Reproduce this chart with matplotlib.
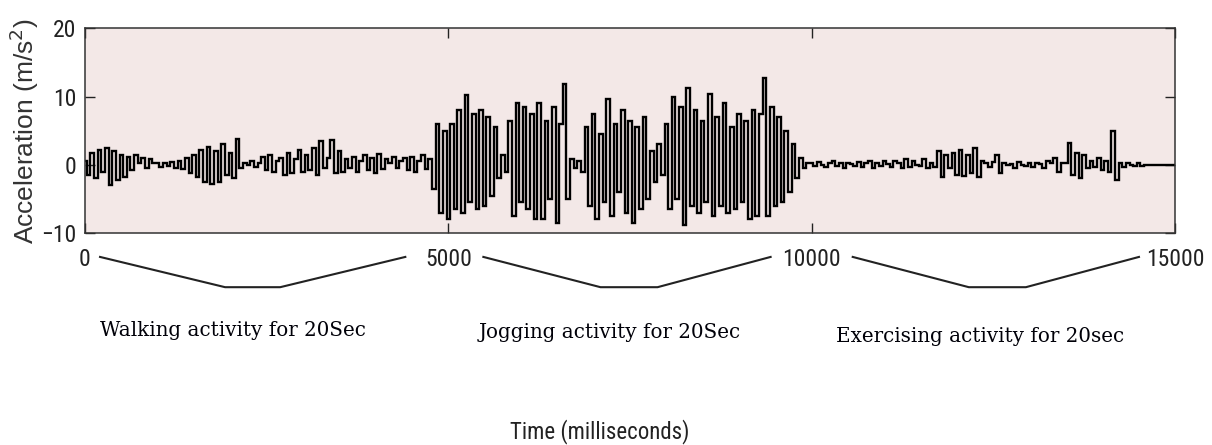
import numpy as np
import matplotlib
matplotlib.use("Agg")
import matplotlib.pyplot as plt
from matplotlib import font_manager
import matplotlib.transforms as mtransforms

# ---------------- data (one sample per 50 ms) ----------------
sample_step_ms = 50

walking = [
    0.5, -1.5, 1.8, -2.0, 2.2, -1.0, 2.5, -3.0, 2.0, -2.2, 1.5, -1.8,
    1.2, -0.8, 1.5, 0.2, 1.0, -0.5, 0.8, 0.3,
    0.2, -0.3, 0.3, -0.2, 0.4, -0.4, 0.5, -0.6,
    1.0, -1.2, 1.5, -1.8, 2.2, -2.5, 2.6, -2.8, 2.0, -2.5, 3.0, -1.5, 1.8, -2.0, 3.8, -0.5,
    0.3, 0.0, 0.5, -0.3, 0.2, 1.2, -0.8, 1.5, -1.0, 0.6,
    1.0, -1.5, 1.8, -1.2, 0.8, 2.2, -1.0, 1.5, -0.8, 2.5, -1.5, 3.5, -0.5, 1.0, 3.6, -1.2, 2.0, -1.0,
    0.8, -0.5, 1.2, -1.0, 0.6, 1.5, -0.8, 1.0, -1.2, 1.6, -0.6, 0.8, 0.2, 1.2, -0.4, 0.6,
    1.0, -0.8, 1.2, -1.0, 0.5, 1.5, -0.6, 0.8, -3.5, 6.0, -7.0, 5.0,
]

jogging = [
    -8.0, 6.0, -6.5, 8.0, -7.0, 10.3, -5.5, 7.5, -6.5, 8.0, -6.0, 7.0, -4.5, 5.5,
    -2.0, 1.5, -1.0,
    6.5, -7.5, 9.0, -5.5, 8.5, -6.5, 7.5, -8.0, 9.0, -8.0, 6.5, -5.0, 8.5, -8.5, 6.0, 11.8, -5.0,
    0.8, -0.5, 0.5, -1.0,
    5.5, -6.0, 7.5, -8.0, 4.5, -5.5, 9.6, -7.5, 6.0, -4.0, 8.0, -7.0, 6.5, -8.5, 5.5, -6.5, 7.0, -5.0,
    2.0, -2.5, 3.0, -1.5,
    6.0, -6.5, 10.0, -5.0, 8.5, -8.8, 11.3, -6.0, 8.0, -7.0, 6.5, -5.5, 10.4, -7.5, 7.0, -6.0, 9.0,
    -7.0, 5.5, -6.5, 7.5, -5.5, 6.5, -8.0, 8.0, -7.5, 7.5, 12.8, -7.5, 8.5, -6.0, 7.0, -5.5, 5.0, -4.0,
    3.0, -2.0, 1.0, -0.5, 0.3,
]

exercising = [
    0.3, -0.2, 0.4, 0.0, -0.3, 0.2, 0.5, -0.1, 0.2, -0.4, 0.3, 0.1, -0.2, 0.4, -0.3, 0.2, 0.6,
    -0.5, 0.3, -0.2, 0.5, 0.1, -0.3, 0.6, 0.2, -0.4, 0.8, -0.3, 0.5, 0.0, -0.2, 0.9, -0.4, 0.3,
    -0.3, 2.0, -1.8, 1.5, -0.5, 1.8, -1.5, 2.2, -1.6, 1.4, -1.2, 2.5, -1.8, 0.5,
    0.2, -0.3, 0.4, 1.5, -1.2, 0.3,
    0.0, 0.1, -0.5, 0.4, 0.0, -0.2, 0.3, -0.3, 0.2, 0.1, -0.4, 0.5, 0.2, 1.0, -1.0, 0.3,
    0.2, 3.2, -1.5, 1.8, -2.0, 1.5,
    -0.5, 0.6, -0.3, 1.0, -0.8, 0.5, -1.0, 4.9,
    -2.2, 0.3, -0.3, 0.2, 0.0, -0.2, 0.3, -0.1, 0.0, 0.0, 0.0, 0.0, 0.0, 0.0, 0.0, 0.0,
]

x_ticks = [0, 5000, 10000, 15000]
y_ticks = [-10, 0, 10, 20]
activity_labels = ["Walking activity for 20Sec",
                   "Jogging activity for 20Sec",
                   "Exercising activity for 20sec"]
x_label = "Time (milliseconds)"
y_label = "Acceleration (m/s$^2$)"

# ---------------- fonts ----------------
available = {f.name for f in font_manager.fontManager.ttflist}
def pick(*names):
    for n in names:
        if n in available:
            return n
    return "DejaVu Sans"
narrow = pick("Liberation Sans Narrow", "Roboto Condensed", "Open Sans Condensed", "Liberation Sans")
sans = pick("Liberation Sans", "Arial", "DejaVu Sans")
serif = pick("DejaVu Serif", "Liberation Serif")

# ---------------- figure ----------------
W, H = 1212, 445
fig = plt.figure(figsize=(W / 100, H / 100), dpi=100)
ax_l, ax_r, ax_t, ax_b = 85, 1175, 28.5, 233
ax = fig.add_axes([ax_l / W, 1 - ax_b / H, (ax_r - ax_l) / W, (ax_b - ax_t) / H])
ax.set_facecolor("#f3e8e7")

signal = np.array(walking + jogging + exercising + [0.0])
t = np.arange(len(signal)) * sample_step_ms
ax.plot(t, signal, color="black", lw=1.7, drawstyle="steps-mid", solid_joinstyle="miter")

ax.set_xlim(0, 15000)
ax.set_ylim(-10, 20)
ax.set_xticks(x_ticks)
ax.set_yticks(y_ticks)
ax.tick_params(direction="in", length=7.5, width=1.0, color="#222222",
               top=True, right=True, labelsize=17)
ax.tick_params(axis="x", pad=10.5)
ax.tick_params(axis="y", pad=6)
for lab in ax.get_xticklabels() + ax.get_yticklabels():
    lab.set_fontfamily(narrow)
    lab.set_color("#222222")
for s in ax.spines.values():
    s.set_color("#333333")
    s.set_linewidth(1.1)

ax.set_ylabel(y_label, fontsize=19, family=sans, color="#333333", labelpad=0)

# braces under the axis joining tick labels (x in data units, y in axes fraction)
trans = mtransforms.blended_transform_factory(ax.transData, ax.transAxes)
brace_x = [[207, 1928, 2686, 4408],
           [5482, 7094, 7879, 9435],
           [10565, 12163, 12948, 14504]]
brace_top, brace_bot = -0.117, -0.265
for bx in brace_x:
    ax.plot(bx, [brace_top, brace_bot, brace_bot, brace_top], transform=trans,
            clip_on=False, color="#222222", lw=1.5)

# activity labels
label_pos = [(233, 330), (610, 333), (980, 337)]
for txt, (px, py) in zip(activity_labels, label_pos):
    fig.text(px / W, 1 - py / H, txt, ha="center", va="center",
             family=serif, fontsize=14.3, color="#000008")

fig.text(600 / W, 1 - 432 / H, x_label, ha="center", va="center",
         family=narrow, fontsize=16.5, color="#222222")

fig.savefig("out.png", dpi=100, facecolor="white")
